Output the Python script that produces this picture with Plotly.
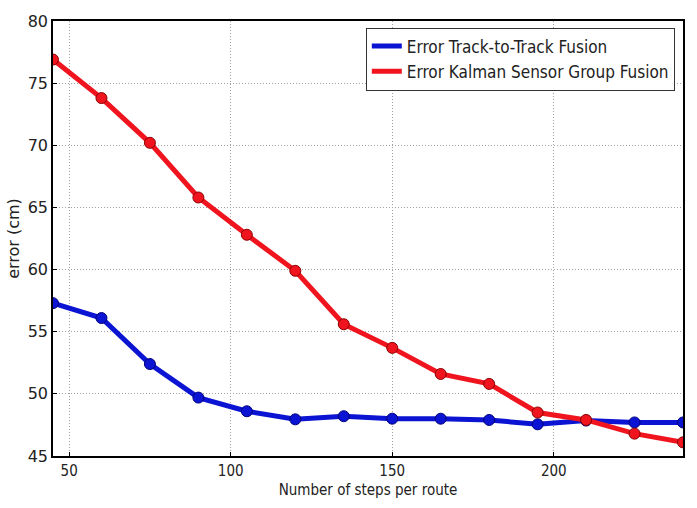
import plotly.graph_objects as go

steps = [45, 60, 75, 90, 105, 120, 135, 150, 165, 180, 195, 210, 225, 240]
err_track = [57.3, 56.1, 52.4, 49.7, 48.6, 47.95, 48.2, 48.0, 48.0, 47.9, 47.55, 47.85, 47.7, 47.7]
err_kalman = [76.9, 73.8, 70.2, 65.8, 62.8, 59.9, 55.6, 53.7, 51.6, 50.8, 48.5, 47.9, 46.8, 46.1]

name_track = "Error Track-to-Track Fusion"
name_kalman = "Error Kalman Sensor Group Fusion"

blue = "#0a14d2"
red = "#f0141e"

fig = go.Figure()
for ys, nm, col, edge, grp in [(err_track, name_track, blue, "#00007a", "a"),
                              (err_kalman, name_kalman, red, "#8a0000", "b")]:
    fig.add_trace(go.Scatter(
        x=steps, y=ys, name=nm, mode="lines+markers", showlegend=False,
        legendgroup=grp,
        line=dict(color=col, width=5),
        marker=dict(size=11, color=col, line=dict(color=edge, width=1)),
    ))
    # legend entry showing the line sample only
    fig.add_trace(go.Scatter(
        x=[None], y=[None], name=nm, mode="lines", legendgroup=grp,
        line=dict(color=col, width=5),
    ))

axis_common = dict(
    showline=True, linecolor="black", linewidth=1.5, mirror=True,
    showgrid=True, gridcolor="#a0a0a0", griddash="1px,2px", gridwidth=1,
    zeroline=False, ticks="inside", ticklen=4, tickcolor="black",
)

fig.update_layout(
    width=697, height=508,
    margin=dict(l=46, r=14, t=15, b=50),
    paper_bgcolor="white", plot_bgcolor="white",
    font=dict(family="DejaVu Sans Condensed, DejaVu Sans", color="#222222", size=14),
    xaxis=dict(range=[45, 240], dtick=50, tick0=0,
               title=dict(text="Number of steps per route", standoff=6,
                          font=dict(size=15)),
               tickfont=dict(size=15), **axis_common),
    yaxis=dict(range=[45, 80], dtick=5,
               title=dict(text="error (cm)", standoff=4,
                          font=dict(family="DejaVu Sans", size=16)),
               tickfont=dict(family="DejaVu Sans", size=16), **axis_common),
    legend=dict(x=0.987, y=0.985, xanchor="right", yanchor="top",
                bgcolor="white", bordercolor="#333333", borderwidth=1,
                font=dict(family="DejaVu Sans Condensed, DejaVu Sans", size=17, color="#222222"),
                tracegroupgap=0),
    showlegend=True,
)

fig.write_html("out.html")
